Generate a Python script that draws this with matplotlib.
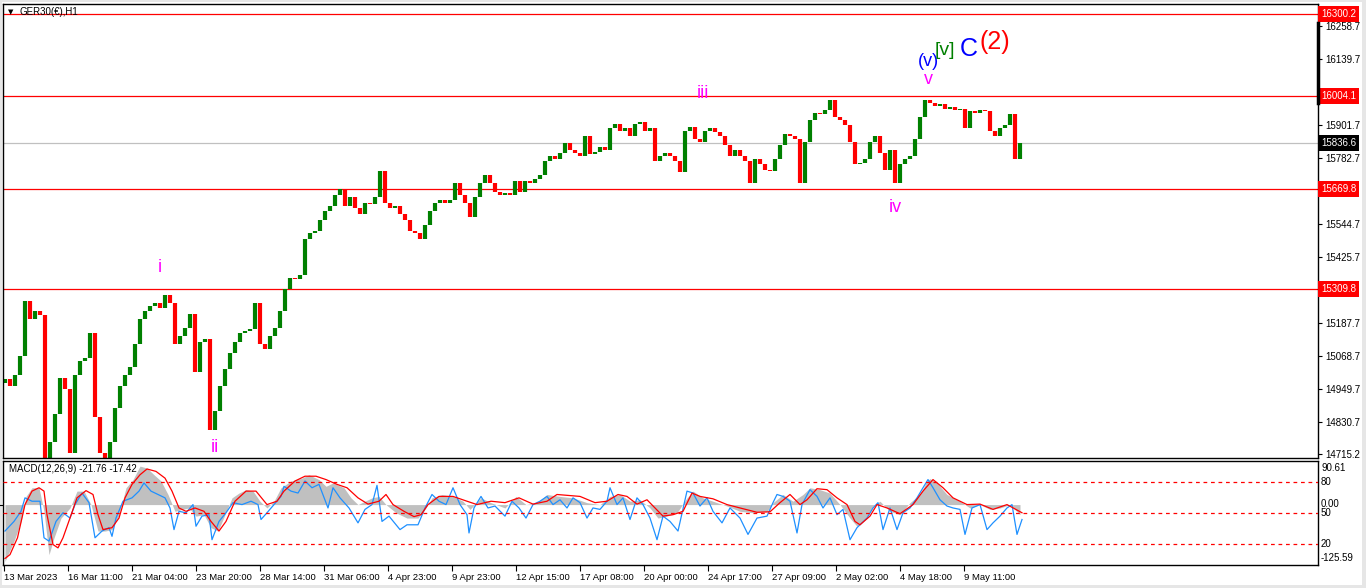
import numpy as np
import matplotlib.pyplot as plt
from matplotlib.transforms import blended_transform_factory as blend
from matplotlib.lines import Line2D
from matplotlib.patches import Rectangle

plt.rcParams['font.family'] = ['Liberation Sans', 'DejaVu Sans']

# GER30 H1 closes (one value per compressed bar)
closes = [
    14985, 14960, 15000, 15070, 15265, 15200, 15230, 15215, 14700, 14760,
    14860, 14990, 14950, 14720, 15000, 15050, 15060, 15150, 14850, 14720,
    14700, 14760, 14880, 14960, 15000, 15030, 15110, 15200, 15230, 15250,
    15260, 15240, 15290, 15260, 15110, 15140, 15170, 15220, 15010, 15120,
    15130, 14800, 14870, 14960, 15020, 15080, 15120, 15150, 15160, 15165,
    15260, 15110, 15095, 15140, 15170, 15230, 15310, 15350, 15345, 15360,
    15490, 15510, 15520, 15560, 15590, 15610, 15650, 15670, 15610, 15640,
    15600, 15580, 15620, 15615, 15640, 15735, 15620, 15600, 15610, 15580,
    15560, 15520, 15510, 15490, 15540, 15590, 15620, 15630, 15620, 15630,
    15690, 15650, 15620, 15570, 15640, 15690, 15720, 15690, 15660, 15650,
    15655, 15650, 15700, 15660, 15700, 15690, 15705, 15720, 15770, 15790,
    15780, 15800, 15835, 15810, 15800, 15790, 15860, 15795, 15805, 15820,
    15810, 15890, 15905, 15880, 15890, 15860, 15905, 15910, 15880, 15890,
    15770, 15790, 15800, 15790, 15770, 15730, 15880, 15895, 15850, 15840,
    15880, 15890, 15875, 15860, 15830, 15790, 15810, 15790, 15770, 15690,
    15780, 15760, 15740, 15735, 15780, 15830, 15870, 15860, 15850, 15690,
    15840, 15920, 15945, 15940, 15955, 15990, 15930, 15920, 15900, 15840,
    15760, 15765, 15780, 15840, 15860, 15800, 15740, 15810, 15690, 15760,
    15780, 15790, 15850, 15930, 15990, 15980, 15970, 15975, 15960, 15965,
    15955, 15960, 15890, 15950, 15945, 15955, 15950, 15880, 15860, 15890,
    15900, 15940, 15780, 15836.6,
]
first_open = 14970

levels = [16300.2, 16004.1, 15669.8, 15309.8]
last_price = 15836.6
price_ticks = [16258.7, 16139.7, 15901.7, 15782.7, 15544.7, 15425.7,
               15187.7, 15068.7, 14949.7, 14830.7, 14715.2]

# MACD(12,26,9): (bar, value)
macd_main = [
    (0, -118), (1.8, -76), (3.2, -35), (4.2, 17), (5.4, 35), (6.8, 35), (7.8, -14),
    (8.8, -104), (9.8, -69), (11.2, -28), (13, -7), (14.4, 28), (15.8, 28), (17.2, 0),
    (18.6, -55), (20, -55), (21.4, -52), (22.8, -21), (24.2, 35), (25.6, 52), (27, 80),
    (28.4, 76), (29.8, 62), (31.2, 49), (32.6, 21), (34, -14), (35.4, -10), (36.8, -7),
    (38.2, -24), (39.8, -21), (41.2, -48), (42.6, -55), (44, -21), (45.4, 14), (46.8, 24),
    (48.2, 31), (49.6, 28), (51, 7), (52.4, -7), (53.8, 7), (55.2, 35), (57.2, 49),
    (59.4, 55), (60.8, 62), (62.8, 52), (64.2, 38), (65.6, 45), (67.8, 35), (69.2, 14),
    (70.6, 0), (72, 7), (73.4, 14), (74.8, 17), (76.2, 0), (78.2, -17), (80.4, -28),
    (82.6, -28), (84, -10), (85.4, 14), (87.4, 21), (89.6, 17), (91.6, 7), (93, -10),
    (95.2, 14), (97.2, 4), (100, -7), (102.2, 17), (104.2, 0), (106.4, 4), (108.4, 21),
    (111, 17), (113.6, 14), (116.4, 4), (119, 0), (121, 17), (123, 21), (125, 7),
    (127, 10), (129, -7), (130.6, -28), (132.4, -24), (134.4, -17), (136.4, 14),
    (137.6, 28), (139.6, 14), (141.6, 7), (144.4, -3), (147, -14), (149.6, -17),
    (152.4, -14), (153.6, 4), (155.6, 21), (157.6, 7), (159.6, 21), (161, 35), (163, 31),
    (165, 24), (167, 0), (169, -28), (170.4, -45), (172, -31), (173.6, -3), (175, 7),
    (177, -14), (179, -21), (181, 4), (183, 21), (184.4, 49), (185, 54), (186.4, 45),
    (188.4, 21), (191, 7), (193, -7), (195, 0), (197, -10), (199, -7), (201, 0), (203, -21),
]
macd_fast = [
    (0, -55), (1.8, -35), (3.2, -14), (4, 14), (5.4, 7), (7, 7), (7.8, -69), (8.8, -76),
    (10.2, -35), (11.6, -17), (13, -28), (14, 0), (15.4, 24), (16.8, 4), (18, -69),
    (19.4, -55), (20.8, -48), (21.4, -66), (22.2, -28), (23.6, 7), (25.4, 14), (26.8, 28),
    (27.8, 45), (29.2, 28), (30.6, 21), (32, 14), (33, -7), (33.8, -52), (34.8, -14),
    (36.2, -17), (37.6, 0), (38.2, -45), (39.4, -24), (40.8, -21), (41.4, -73), (42.8, -35),
    (44.2, -17), (45.6, 4), (47.4, 0), (49.2, 7), (50.6, 0), (51.2, -31), (52.4, -17),
    (53.8, 0), (55.2, 17), (55.8, 38), (57.2, 28), (58.6, 24), (60, 49), (61.4, 35),
    (62.8, 42), (64.6, -7), (65.6, 35), (67, 14), (68.8, -7), (70.6, -38), (72, -10),
    (73.4, 0), (74.4, 40), (75.4, -35), (76.8, -24), (79, -52), (80.4, -42), (82.6, -42),
    (84, -7), (85.4, 21), (86.8, 7), (88.2, 0), (89.6, 35), (91, 0), (92.4, -21),
    (92.8, -59), (93.8, -7), (95.2, 17), (96.6, -7), (98, -3), (100, -24), (101.4, 7),
    (102.8, -7), (104.2, -28), (105.6, 0), (107, 7), (108.4, 17), (109.6, 0), (111, 10),
    (112.4, -7), (113.6, 14), (115, 4), (116.4, -28), (117.6, -7), (119, -10), (120.4, 7),
    (121, 35), (122.4, 0), (123.6, 14), (125, -31), (126.4, 14), (127.6, 0), (129, -28),
    (130.4, -73), (131.6, -24), (133, -35), (134.6, -55), (136.4, 28), (137.6, 24),
    (139, -3), (140.4, 14), (141.6, -14), (143.4, -38), (145, -7), (147, -28), (148.6, -62),
    (150.4, -28), (152.4, -24), (153.6, 4), (154.4, 21), (155.6, 17), (157, 7), (158.4, -59),
    (159.4, 0), (161, 31), (162.4, 17), (163.6, -7), (165, 14), (166.4, -21), (167.6, -10),
    (169, -73), (170.4, -48), (172.4, -28), (173.6, -7), (174.6, 4), (175.6, -52), (177, -7),
    (178.4, -52), (179.6, -17), (181, -7), (182.4, 14), (183.6, 35), (184.6, 52), (185.6, 35),
    (187, 10), (188.4, -3), (189.6, -7), (191, -10), (192, -62), (193.4, -7), (195, 0),
    (196.4, -52), (197.6, -38), (199, -24), (200.4, -7), (201.4, 0), (202.4, -62), (203.4, -31),
]
macd_signal = [
    (0, -112), (1, -104), (2.5, -69), (4, 0), (5.4, 28), (6.8, 35), (7.8, 28), (8.4, -21),
    (9.6, -83), (10.6, -90), (11.6, -69), (13, -28), (14.4, 14), (16.2, 29), (17.6, 21),
    (18.6, -21), (19.6, -52), (21.4, -48), (22.8, -28), (24, 14), (25.4, 42), (27, 62),
    (28.4, 74), (30.2, 69), (32, 55), (33.4, 28), (34.8, -7), (36.2, -14), (38, -7),
    (39.8, -14), (41.2, -35), (42.8, -55), (44.2, -35), (46, 7), (48.2, 28), (50.2, 28),
    (52.4, 0), (54.4, 7), (55.8, 28), (58, 49), (60, 59), (62.2, 59), (64.2, 52), (66.4, 42),
    (68.4, 35), (70.6, 14), (72.6, 1), (74.8, 7), (76.2, 21), (77.6, 0), (79.8, -14),
    (81.8, -25), (83.2, -21), (84.6, 0), (86.8, 17), (89.6, 17), (92.4, 7), (94.4, 0),
    (97.2, 7), (100, 4), (102.8, 14), (105.6, 1), (108.4, 7), (110.4, 21), (115, 17),
    (118, 4), (120.4, 7), (122.6, 21), (124.4, 17), (126.4, 1), (128.4, 10), (130, -7),
    (131.6, -24), (133.6, -21), (135.6, -14), (137.4, 24), (139, 17), (141.6, 12),
    (144.4, 0), (147, -7), (150.4, -16), (153, -15), (155, 4), (157, 21), (159, 0),
    (160.4, 10), (162.4, 33), (164.4, 31), (166.4, 14), (168.4, 0), (170, -35), (171, -42),
    (173, -24), (174.4, 0), (176.4, -7), (179, -19), (181.6, 0), (183.6, 28), (185.6, 52),
    (187.6, 35), (189.6, 14), (192.4, 0), (195, 1), (197.6, -10), (200.4, 0), (203.4, -17),
]
stoch_levels = [80, 50, 20]

date_labels = ['13 Mar 2023', '16 Mar 11:00', '21 Mar 04:00', '23 Mar 20:00',
               '28 Mar 14:00', '31 Mar 06:00', '4 Apr 23:00', '9 Apr 23:00',
               '12 Apr 15:00', '17 Apr 08:00', '20 Apr 00:00', '24 Apr 17:00',
               '27 Apr 09:00', '2 May 02:00', '4 May 18:00', '9 May 11:00']

# wave labels: (text, bar, price, colour, size)
waves = [
    ('i', 31, 15389, '#FF00FF', 13),
    ('ii', 42, 14737, '#FF00FF', 13),
    ('iii', 139.6, 16016, '#FF00FF', 13),
    ('iv', 178, 15605, '#FF00FF', 13),
    ('v', 184.6, 16064, '#FF00FF', 13),
    ('(v)', 184.6, 16128, '#0000FF', 13),
    ('[v]', 188, 16170, '#008000', 14),
    ('C', 192.8, 16174, '#0000FF', 18),
    ('(2)', 198, 16198, '#FF0000', 18),
]

W, H = 1366., 588.


def box(l, t, r, b):
    return [l / W, 1 - b / H, (r - l) / W, (b - t) / H]


fig = plt.figure(figsize=(W / 100, H / 100), dpi=100, facecolor='#E6E6E6')
fig.add_artist(Rectangle((2 / W, 3 / H), 1360 / W, 583 / H, transform=fig.transFigure,
                         facecolor='white', edgecolor='none', zorder=-10))

ax = fig.add_axes(box(3, 4, 1318, 458))
mx = fig.add_axes(box(3, 461, 1318, 565), sharex=ax)
xlim = (-0.4, 262.6)

# ---- price panel
c = np.array(closes, dtype=float)
o = np.r_[first_open, c[:-1]]
xb = np.arange(len(c))
up = c >= o
ax.vlines(xb[up], o[up], c[up], color='#008000', lw=3.0)
ax.vlines(xb[~up], o[~up], c[~up], color='#FF0000', lw=3.0)

for lv in levels:
    ax.axhline(lv, color='#FF0000', lw=0.9, zorder=1)
ax.axhline(last_price, color='#C0C0C0', lw=0.9, zorder=0)

ax.set_xlim(*xlim)
ax.set_ylim(14700.9, 16336.7)
ax.yaxis.tick_right()
ax.set_yticks(price_ticks)
ax.set_yticklabels([f'{v:.1f}' for v in price_ticks])
ax.tick_params(axis='y', direction='out', length=3, labelsize=7, pad=2)
ax.tick_params(axis='x', which='both', bottom=False, labelbottom=False)

tr = blend(ax.transAxes, ax.transData)
for lv in levels:
    ax.text(1.0025, lv, f'{lv:.1f}', transform=tr, color='white', fontsize=7,
            va='center', ha='left',
            bbox=dict(boxstyle='square,pad=0.3', fc='#FF0000', ec='none'))
ax.text(1.0025, last_price, f'{last_price:.1f}', transform=tr, color='white', fontsize=7,
        va='center', ha='left', bbox=dict(boxstyle='square,pad=0.3', fc='black', ec='none'))

for txt, bx, py, col, fs in waves:
    ax.text(bx, py, txt, color=col, fontsize=fs, ha='center', va='center')

fig.add_artist(Line2D([1318 / W, 1318 / W], [1 - 23 / H, 1 - 103 / H], color='black', lw=2.5))
fig.text(8 / W, 1 - 12 / H, '\u25bc', fontsize=5, va='center', ha='left',
         family='DejaVu Sans')
fig.text(20 / W, 1 - 12 / H, 'GER30(\u20ac),H1', fontsize=7, va='center', ha='left')

# ---- MACD panel
gb, gv = zip(*macd_main)
mx.fill_between(gb, 0, gv, color='#C0C0C0', lw=0)
fb, fv = zip(*macd_fast)
mx.plot(fb, fv, color='#1E90FF', lw=0.9)
sb, sv = zip(*macd_signal)
mx.plot(sb, sv, color='#FF0000', lw=0.9)
mx.set_ylim(-125.59, 90.61)
mx.set_xlim(*xlim)
mx.yaxis.tick_right()
mx.set_yticks([0])
mx.set_yticklabels([])
mx.tick_params(axis='y', length=3)

lv_ax = mx.twinx()
lv_ax.set_ylim(-0.3, 100.3)
for lv in stoch_levels:
    lv_ax.axhline(lv, color='#FF0000', lw=0.9, ls=(0, (3, 3)))
lv_ax.set_yticks([])
for sp in lv_ax.spines.values():
    sp.set_visible(False)

for txt, yp in [('90.61', 468), ('80', 482), ('0.00', 504), ('50', 513),
                ('20', 544), ('-125.59', 558)]:
    fig.text(1321 / W, 1 - yp / H, txt, fontsize=7, va='center', ha='left')

tick_pos = np.arange(len(date_labels)) * 12.8 - 0.2
mx.set_xticks(tick_pos)
mx.set_xticklabels(date_labels, ha='left', fontsize=6.8)
mx.tick_params(axis='x', direction='out', length=4, pad=2)
fig.text(9 / W, 1 - 469 / H, 'MACD(12,26,9) -21.76 -17.42', fontsize=7, va='center', ha='left')

for a in (ax, mx):
    for sp in a.spines.values():
        sp.set_linewidth(1.0)

fig.savefig('out.png', dpi=100, facecolor=fig.get_facecolor())
